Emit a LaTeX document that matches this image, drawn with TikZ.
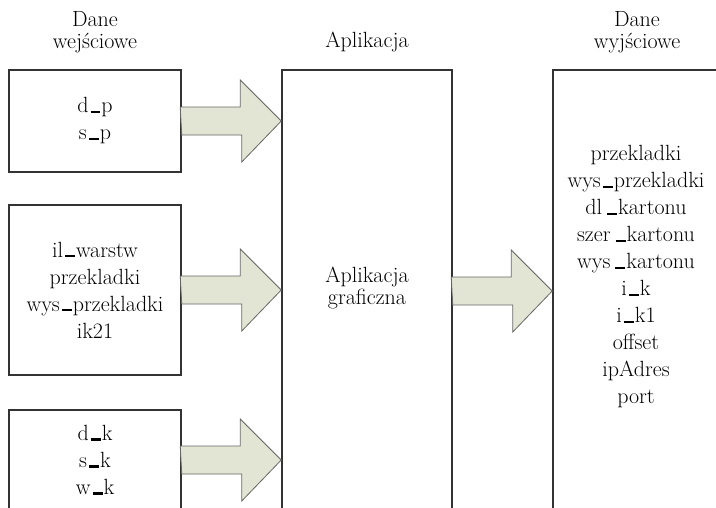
\documentclass[tikz,border=0pt]{standalone}
\usetikzlibrary{positioning}
\definecolor{boxgray}{HTML}{333333}
\definecolor{arrowgray}{HTML}{666666}
\definecolor{arrowfill}{HTML}{E2E4D4}
\tikzset{
  databox/.style={draw=boxgray, line width=1.5pt, minimum width=172pt, inner sep=0pt, align=center},
  appbox/.style={draw=boxgray, line width=1.5pt, minimum width=170pt, minimum height=442pt},
  flowarrow/.style={draw=arrowgray, fill=arrowfill, line width=0.8pt},
}
% short bold underscore as in the original
\newcommand{\us}{\kern2pt\rule{10pt}{2.2pt}\kern1pt}
\newcommand{\wus}{\kern5pt\rule{10pt}{2.2pt}\kern1pt}
% arrow from the east side of one box to the west side of the next
\newcommand{\flowarr}[2]{%
  \draw[flowarrow] (#1.east) ++(0,14) -- ++(60,0) -- ++(0,27) -- (#2.west |- #1.east)
    -- ++(-41,-41) -- ++(0,27) -- ++(-60,0) -- cycle;}
\begin{document}
\begin{tikzpicture}[x=1pt, y=-1pt, font=\fontsize{22}{27}\selectfont]
  \useasboundingbox (0,0) rectangle (716,507);
  \clip (0,0) rectangle (716,507);
  % headers
  \node[align=center] (inhead) at (95,32) {Dane\\[-5pt]wejściowe};
  \node (apphead) at (367,42) {Aplikacja};
  \node[align=center] (outhead) at (637,32) {Dane\\[-5pt]wyjściowe};
  % boxes
  \node[databox, minimum height=102pt] (in1) at (95,121) {d\us p\\s\us p};
  \node[databox, minimum height=170pt] (in2) at (95,290) {il\us warstw\\przekladki\\wys\us przekladki\\ik21};
  \node[databox, minimum height=100pt] (in3) at (95,460) {d\us k\\s\us k\\w\us k};
  \node[appbox] (app) at (367,291) {};
  \node[appbox, minimum width=180pt] (out) at (643,291) {};
  \node[align=center] (apptext) at (367,288) {Aplikacja\\[-5pt]graficzna};
  \node[align=center] (outlist) at (636,277) {przekladki\\wys\us przekladki\\dl\wus kartonu\\szer\wus kartonu\\wys\wus kartonu\\i\us k\\i\us k1\\offset\\ipAdres\\port};
  % arrows
  \flowarr{in1}{app}
  \flowarr{in2}{app}
  \flowarr{in3}{app}
  \flowarr{app}{out}
\end{tikzpicture}
\end{document}
